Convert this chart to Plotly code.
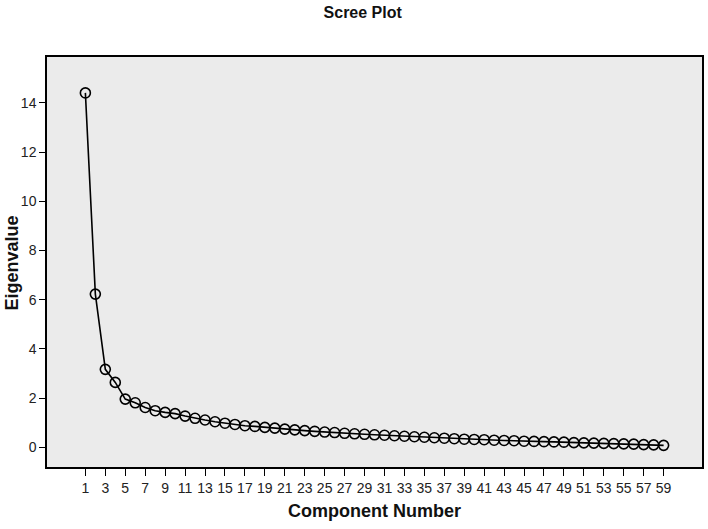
import plotly.graph_objects as go

components = list(range(1, 60))
eigenvalues = [
    14.41, 6.23, 3.17, 2.64, 1.96, 1.81, 1.62, 1.49, 1.42, 1.37,
    1.27, 1.18, 1.11, 1.04, 0.98, 0.93, 0.88, 0.85, 0.81, 0.78,
    0.74, 0.71, 0.68, 0.65, 0.62, 0.60, 0.57, 0.55, 0.53, 0.51,
    0.49, 0.47, 0.45, 0.43, 0.41, 0.39, 0.37, 0.35, 0.33, 0.32,
    0.31, 0.29, 0.28, 0.27, 0.25, 0.24, 0.23, 0.22, 0.21, 0.19,
    0.18, 0.17, 0.16, 0.15, 0.14, 0.13, 0.11, 0.10, 0.08,
]
x_ticks = list(range(1, 60, 2))
y_ticks = [0, 2, 4, 6, 8, 10, 12, 14]

font = "Arial, 'Liberation Sans', sans-serif"

fig = go.Figure()
fig.add_trace(
    go.Scatter(
        x=components,
        y=eigenvalues,
        mode="lines+markers",
        line=dict(color="black", width=1.6),
        marker=dict(
            symbol="circle-open",
            size=10,
            color="black",
            line=dict(width=1.6, color="black"),
        ),
        showlegend=False,
    )
)

fig.update_layout(
    width=708,
    height=529,
    margin=dict(l=47, r=6, t=57, b=62),
    paper_bgcolor="white",
    plot_bgcolor="#ebebeb",
    font=dict(family=font, color="#222222"),
    title=dict(
        text="<b>Scree Plot</b>",
        x=0.482,
        xref="paper",
        xanchor="center",
        y=0.988,
        yanchor="top",
        font=dict(size=16, color="#111111"),
    ),
)
# y-axis title sits closer to the tick labels than plotly allows, so use an annotation
fig.add_annotation(
    text="<b>Eigenvalue</b>",
    xref="paper",
    yref="paper",
    x=-0.054,
    y=0.498,
    xanchor="center",
    yanchor="middle",
    textangle=-90,
    showarrow=False,
    font=dict(size=18, color="#111111"),
)
fig.update_xaxes(
    range=[-2.85, 62.85],
    tickvals=x_ticks,
    ticktext=[str(v) for v in x_ticks],
    ticks="outside",
    ticklen=7,
    tickwidth=1.3,
    tickcolor="black",
    tickfont=dict(size=14),
    showgrid=False,
    zeroline=False,
    showline=True,
    linecolor="black",
    linewidth=1.5,
    mirror=True,
    automargin=False,
    title=dict(
        text="<b>Component Number</b>",
        font=dict(size=18, color="#111111"),
        standoff=10,
    ),
)
fig.update_yaxes(
    range=[-0.8, 15.87],
    tickvals=y_ticks,
    ticks="outside",
    ticklen=6,
    tickwidth=1.3,
    tickcolor="black",
    tickfont=dict(size=14),
    showgrid=False,
    zeroline=False,
    showline=True,
    linecolor="black",
    linewidth=1.5,
    mirror=True,
    automargin=False,
)

# drop the default body margin so the figure starts at the window corner
fig.write_html(
    "out.html",
    config={"displayModeBar": False},
    post_script="document.body.style.margin='0';",
)
